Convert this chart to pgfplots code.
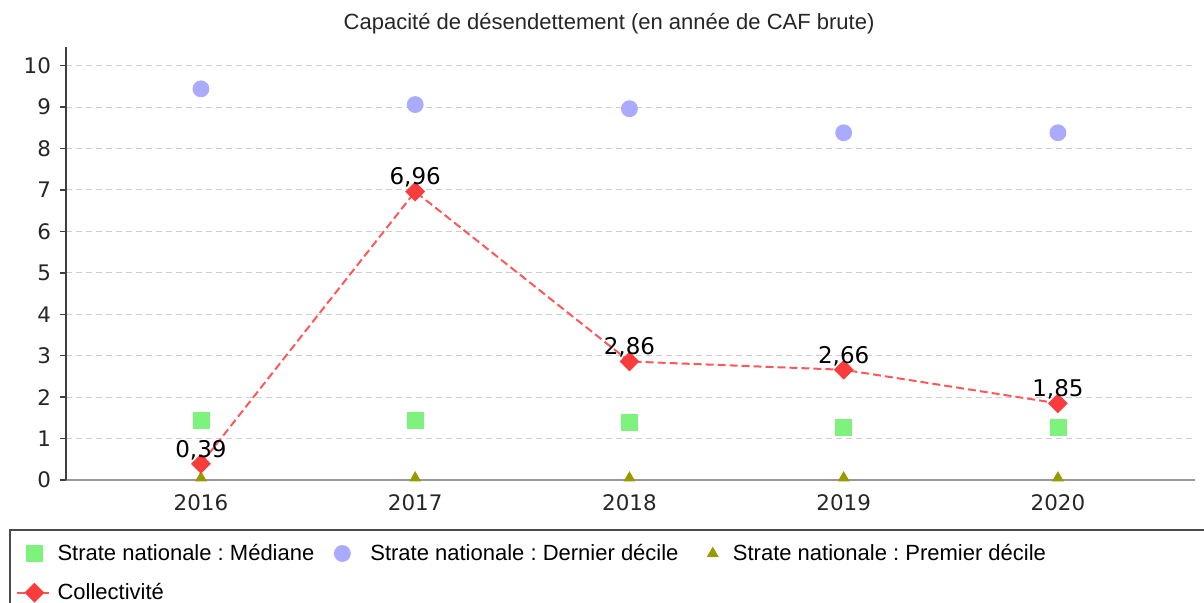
\documentclass[border=0pt]{standalone}
\usepackage{fontspec}
\setmainfont{DejaVu Sans}
\newfontfamily\arial{Liberation Sans}
\usepackage{pgfplots}
\pgfplotsset{compat=1.18}
\frenchspacing

\definecolor{medgreen}{RGB}{125,242,125}
\definecolor{lavender}{RGB}{170,170,255}
\definecolor{olive}{RGB}{153,153,0}
\definecolor{collred}{RGB}{250,60,60}
\definecolor{gridgray}{RGB}{205,205,212}

\begin{document}
\begin{tikzpicture}
\useasboundingbox (0,0) rectangle (602pt,301.5pt);
\begin{axis}[
    at={(33pt,61.5pt)}, anchor=south west,
    scale only axis,
    width=564.5pt, height=216.5pt,
    xmin=-0.63, xmax=4.64,
    ymin=0, ymax=10.45,
    xtick={0,1,2,3,4},
    xticklabels={2016,2017,2018,2019,2020},
    ytick={0,1,...,10},
    axis x line=bottom, axis y line=left,
    axis line style={-},
    x axis line style={gray!80, line width=0.8pt},
    y axis line style={black!75, line width=1pt},
    xtick style={draw=none},
    ytick style={black!75, line width=0.7pt},
    tick align=outside,
    major tick length=3pt,
    ymajorgrids,
    grid style={gridgray, dash pattern=on 3pt off 2pt, line width=0.5pt},
    tick label style={font=\fontsize{10.7}{12}\selectfont, text=black!85},
    /pgf/number format/assume math mode=true,
    yticklabel style={xshift=-1pt},
    xticklabel style={yshift=-1pt},
    title={\arial Capacité de désendettement (en année de CAF brute)},
    title style={at={(axis description cs:0.481,1.025)}, anchor=center, font=\fontsize{11}{13}\selectfont, text=black!85},
    legend columns=3,
    legend cell align=left,
    legend style={at={(axis description cs:-0.0443,-0.215)}, anchor=west,
        draw=none, fill=none, inner sep=0pt,
        font=\arial\fontsize{11}{13}\selectfont,
        row sep=6pt,
        /tikz/column 1/.style={column sep=0.5pt},
        /tikz/column 2/.style={column sep=8pt},
        /tikz/column 3/.style={column sep=8pt},
        /tikz/column 4/.style={column sep=12.5pt},
        /tikz/column 5/.style={column sep=5.5pt}},
]
% Strate nationale : Mediane
\addplot[only marks, mark=square*, mark size=4pt, color=medgreen] coordinates {
    (0,1.43) (1,1.45) (2,1.38) (3,1.28) (4,1.28)
};
% Strate nationale : Dernier decile
\addplot[only marks, mark=*, mark size=4pt, color=lavender] coordinates {
    (0,9.44) (1,9.06) (2,8.96) (3,8.38) (4,8.38)
};
% Strate nationale : Premier decile
\addplot[only marks, mark=triangle*, mark size=3pt, color=olive] coordinates {
    (0,0.05) (1,0.05) (2,0.05) (3,0.05) (4,0.05)
};
% Collectivite
\addplot[collred!85, line width=1pt, dash pattern=on 4pt off 2pt,
    mark=square*, mark size=3pt, mark options={solid, rotate=45, fill=collred, draw=collred},
    nodes near coords,
    nodes near coords style={font=\fontsize{11.5}{13}\selectfont, text=black,
        anchor=south, inner sep=1pt, yshift=0.5pt,
        /pgf/number format/.cd, use comma, fixed, fixed zerofill, precision=2,
        assume math mode=true},
] coordinates {
    (0,0.39) (1,6.96) (2,2.86) (3,2.66) (4,1.85)
};
\legend{Strate nationale : Médiane, Strate nationale : Dernier décile, Strate nationale : Premier décile, Collectivité}
\end{axis}
\draw[black!70, line width=0.8pt] (5pt,36.5pt) rectangle (620pt,-20pt);
\end{tikzpicture}
\end{document}
